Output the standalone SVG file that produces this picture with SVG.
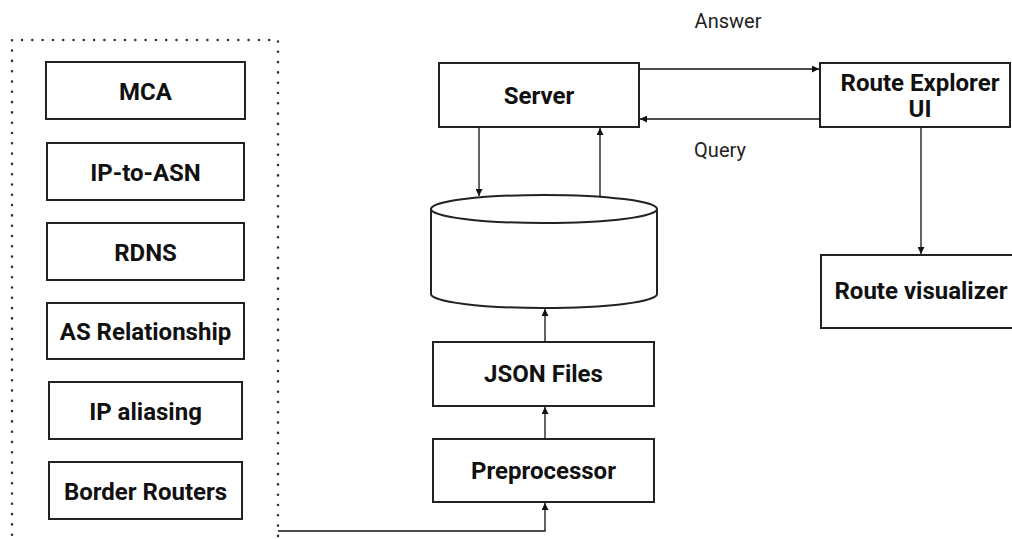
<svg xmlns="http://www.w3.org/2000/svg" width="1012" height="539" viewBox="0 0 1012 539">
<style>
.box{fill:#fff;stroke:#222;stroke-width:2}
.t{font-family:Roboto,"Liberation Sans",sans-serif;font-weight:bold;font-size:24px;fill:#111;text-anchor:middle}
.lbl{font-family:Roboto,"Liberation Sans",sans-serif;font-size:20px;fill:#222;text-anchor:middle}
.c{fill:none;stroke:#111;stroke-width:1.3}
.dot{fill:none;stroke:#333;stroke-width:2.6;stroke-linecap:round;stroke-dasharray:0 10.3}
</style>
<defs>
<marker id="ah" viewBox="0 0 10 10" refX="10" refY="5" markerWidth="7" markerHeight="7" markerUnits="userSpaceOnUse" orient="auto">
<path d="M0,0 L10,5 L0,10 z" fill="#111"/>
</marker>
</defs>
<rect fill="#fff" width="1012" height="539"/>
<g id="sources-group">
<path class="dot" d="M12,545 L12,40 L278,40 L278,545"/>
</g>
<g id="mca"><rect class="box" x="46" y="62" width="199" height="57"/><text class="t" x="145.5" y="99.5">MCA</text></g>
<g id="ip-to-asn"><rect class="box" x="47" y="143" width="197" height="57"/><text class="t" x="145.5" y="180.5">IP-to-ASN</text></g>
<g id="rdns"><rect class="box" x="47" y="223" width="197" height="57"/><text class="t" x="145.5" y="260.5">RDNS</text></g>
<g id="as-relationship"><rect class="box" x="47" y="303" width="197" height="56"/><text class="t" x="145.5" y="339.5">AS Relationship</text></g>
<g id="ip-aliasing"><rect class="box" x="49" y="382" width="193" height="57"/><text class="t" x="145.5" y="419.5">IP aliasing</text></g>
<g id="border-routers"><rect class="box" x="49" y="462" width="193" height="57"/><text class="t" x="145.5" y="499.5">Border Routers</text></g>
<g id="server"><rect class="box" x="439" y="63" width="200" height="64"/><text class="t" x="539" y="103.5">Server</text></g>
<g id="database">
<path class="box" d="M431,209 L431,294 A113,14 0 0 0 657,294 L657,209"/>
<ellipse class="box" cx="544" cy="209" rx="113" ry="14"/>
</g>
<g id="json-files"><rect class="box" x="433" y="342" width="221" height="64"/><text class="t" x="543.5" y="382">JSON Files</text></g>
<g id="preprocessor"><rect class="box" x="433" y="439" width="221" height="63"/><text class="t" x="543.5" y="479">Preprocessor</text></g>
<g id="route-explorer-ui"><rect class="box" x="820" y="63" width="190" height="64"/><text class="t" x="920" y="91">Route Explorer</text><text class="t" x="920" y="117">UI</text></g>
<g id="route-visualizer"><rect class="box" x="821" y="255" width="200" height="73"/><text class="t" x="921" y="299">Route visualizer</text></g>
<g id="connectors">
<path class="c" d="M278,531 L545,531 L545,503" marker-end="url(#ah)"/>
<path class="c" d="M545,439 L545,407" marker-end="url(#ah)"/>
<path class="c" d="M545,342 L545,309" marker-end="url(#ah)"/>
<path class="c" d="M479,127 L479,196" marker-end="url(#ah)"/>
<path class="c" d="M600,196 L600,128" marker-end="url(#ah)"/>
<path class="c" d="M639,69 L819,69" marker-end="url(#ah)"/>
<path class="c" d="M820,119 L640,119" marker-end="url(#ah)"/>
<path class="c" d="M921,127 L921,254" marker-end="url(#ah)"/>
<text class="lbl" x="728" y="28">Answer</text>
<text class="lbl" x="720" y="157">Query</text>
</g>
</svg>
